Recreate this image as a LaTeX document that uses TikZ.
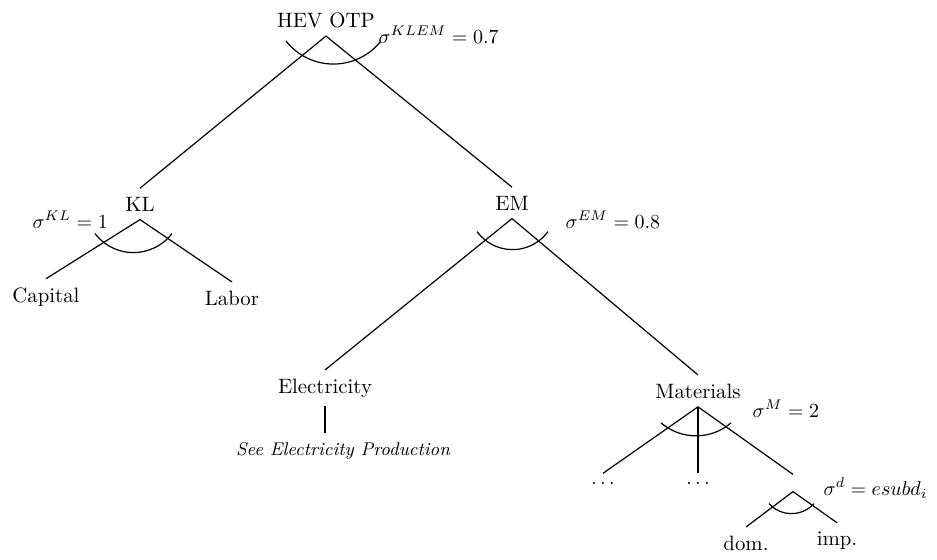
\documentclass[tikz,border=0pt]{standalone}
\usepackage{amsmath,amssymb}
\usepackage{tikz}
\usetikzlibrary{calc}

\begin{document}
\begin{tikzpicture}[x=0.5pt, y=0.5pt,
  font=\fontsize{10.4}{12}\selectfont, line width=0.6pt,
  n/.style={inner sep=4pt, anchor=base},
  e/.style={inner sep=4pt, minimum size=0pt},
  l/.style={inner sep=0pt, anchor=base west}]
\useasboundingbox (0,0) rectangle (937,559);
% nests
\node[n] (hev) at (326,532) {HEV OTP};
\node[n] (kl) at (140,348) {KL};
\node[n] (em) at (512,349) {EM};
\node[n] (cap) at (46,257) {Capital};
\node[n] (lab) at (232,254) {Labor};
\node[n] (ele) at (325,166) {Electricity};
\node[n, font=\fontsize{9.2}{11}\selectfont\itshape] (see) at (343,104) {See Electricity Production};
\node[n] (mat) at (698,161) {Materials};
\node[n] (d1) at (603,75) {$\ldots$};
\node[n] (d2) at (698,75) {$\ldots$};
\node[e] (dm) at (793,76) {};
\node[n] (dom) at (746,9) {dom.};
\node[n] (imp) at (837,14) {imp.};
% elasticities
\node[l] (sklem) at (378,516) {$\sigma^{KLEM}=0.7$};
\node[l] (skl) at (32,331) {$\sigma^{KL}=1$};
\node[l] (sem) at (565,331) {$\sigma^{EM}=0.8$};
\node[l] (sm) at (752,142) {$\sigma^{M}=2$};
\node[l] (sd) at (823,64) {$\sigma^{d}=esubd_i$};
% branches
\draw (hev.south) -- (kl.north);
\draw (hev.south) -- (em.north);
\draw (kl.south) -- (cap.north);
\draw (kl.south) -- (lab.north);
\draw (em.south) -- (ele.north);
\draw (em.south) -- (mat.north);
\draw (ele.south) -- (ele.south |- see.north);
\draw (mat.south) -- (d1.north);
\draw (mat.south) -- (d2.north);
\draw (mat.south) -- (dm.north);
\draw (dm.south) -- (dom.north);
\draw (dm.south) -- (imp.north);
% arcs
\draw ($(hev.south)+(-40,-5)$) arc[start angle=218.3, end angle=321.7, radius=30.25pt];
\draw ($(kl.south)+(-45,-14)$) arc[start angle=217.5, end angle=322.5, radius=24.25pt];
\draw ($(em.south)+(-35,-13)$) arc[start angle=216.2, end angle=323.8, radius=22pt];
\draw ($(mat.south)+(-37,-16)$) arc[start angle=229.2, end angle=310.8, radius=26.8pt];
\draw ($(dm.south)+(-24,-12)$) arc[start angle=222, end angle=318, radius=15.15pt];
\end{tikzpicture}
\end{document}
